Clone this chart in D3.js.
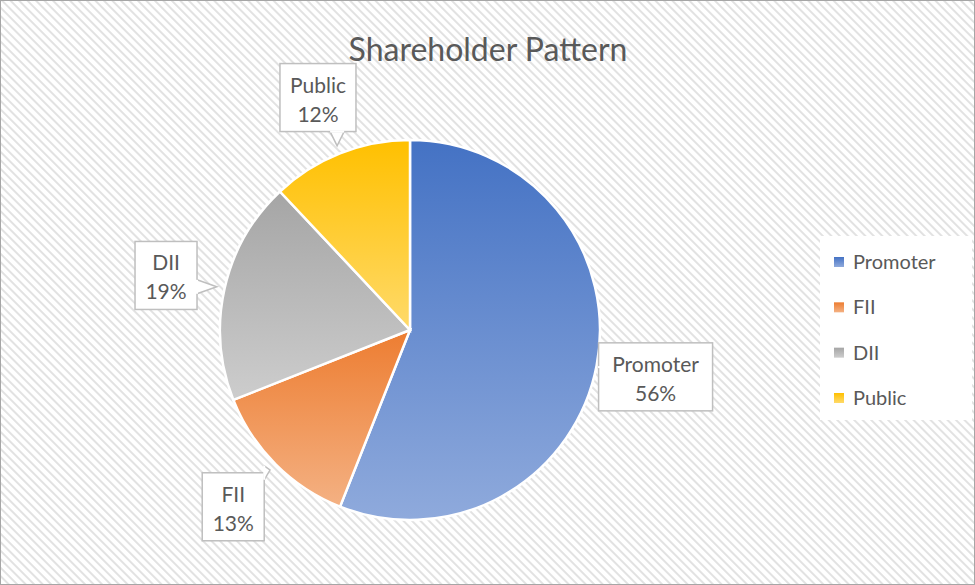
<!DOCTYPE html>
<html><head><meta charset="utf-8">
<script src="https://cdn.jsdelivr.net/npm/d3@7"></script>
<style>body{margin:0;background:#fff}svg{display:block;font-family:Lato,"Open Sans",sans-serif}</style>
</head><body><svg width="975" height="585"></svg>
<script>
// Data
const categories = ["Promoter", "FII", "DII", "Public"];
const shares = [56, 13, 19, 12];
const topColors = ["#4472C4", "#ED7D31", "#A5A5A5", "#FFC000"];
const bottomColors = ["#8FAADC", "#F4B183", "#CDCDCD", "#FFDA6A"];

const width = 975, height = 585;
const cx = 410, cy = 330, radius = 190;
const svg = d3.select("svg");
const defs = svg.append("defs");

// hatched background
const pat = defs.append("pattern").attr("id", "hatch").attr("patternUnits", "userSpaceOnUse")
  .attr("width", 6).attr("height", 6).attr("patternTransform", "rotate(-45)");
pat.append("rect").attr("width", 6).attr("height", 6).attr("fill", "#fff");
pat.append("rect").attr("width", 2).attr("height", 6).attr("fill", "#e2e2e2");
svg.append("rect").attr("x", 0.5).attr("y", 0.5).attr("width", width - 1).attr("height", height - 1)
  .attr("fill", "url(#hatch)").attr("stroke", "#a6a6a6");

categories.forEach((c, i) => {
  const g = defs.append("linearGradient").attr("id", "g" + i).attr("x1", 0).attr("y1", 0).attr("x2", 0).attr("y2", 1);
  g.append("stop").attr("offset", "0%").attr("stop-color", topColors[i]);
  g.append("stop").attr("offset", "100%").attr("stop-color", bottomColors[i]);
});

svg.append("text").attr("x", 488).attr("y", 61).attr("text-anchor", "middle")
  .attr("font-size", 32).attr("fill", "#595959").text("Shareholder Pattern");

const pie = d3.pie().value(d => d).sort(null);
const arcs = pie(shares);
const arc = d3.arc().innerRadius(0).outerRadius(radius);
const labelArc = d3.arc().innerRadius(250).outerRadius(250);
const edgeArc = d3.arc().innerRadius(radius + 8).outerRadius(radius + 8);

const chart = svg.append("g").attr("transform", `translate(${cx},${cy})`);
chart.selectAll("path").data(arcs).enter().append("path")
  .attr("d", arc).attr("fill", (d, i) => `url(#g${i})`)
  .attr("stroke", "#fff").attr("stroke-width", 2.5);

// callout labels
const total = d3.sum(shares);
arcs.forEach((d, i) => {
  const [x, y] = labelArc.centroid(d);
  const [ex, ey] = edgeArc.centroid(d);
  const w = i === 0 ? 114 : (i === 3 ? 76 : 62), h = 68;
  const bx = x - w / 2, by = y - h / 2;
  const px = Math.max(bx, Math.min(bx + w, ex)), py = Math.max(by, Math.min(by + h, ey));
  let base;
  if (px === bx || px === bx + w) base = [[px, py - 7], [px, py + 7]];
  else base = [[px - 7, py], [px + 7, py]];
  chart.append("path").attr("d", `M${base[0]}L${ex},${ey}L${base[1]}`)
    .attr("fill", "#fff").attr("stroke", "#bfbfbf").attr("stroke-width", 1.5);
  chart.append("rect").attr("x", bx).attr("y", by).attr("width", w).attr("height", h)
    .attr("fill", "#fff").attr("stroke", "#bfbfbf").attr("stroke-width", 1.5);
  chart.append("path").attr("d", `M${base[0]}L${base[1]}`).attr("stroke", "#fff").attr("stroke-width", 2);
  const t = chart.append("text").attr("text-anchor", "middle").attr("font-size", 21).attr("fill", "#595959");
  t.append("tspan").attr("x", x).attr("y", y - 5).text(categories[i]);
  t.append("tspan").attr("x", x).attr("y", y + 24).text(Math.round(d.data / total * 100) + "%");
});

// legend
const legend = svg.append("g");
legend.append("rect").attr("x", 820).attr("y", 236).attr("width", 152).attr("height", 184).attr("fill", "#fff");
const ly = d3.scalePoint().domain(categories).range([262, 398]);
categories.forEach((c, i) => {
  legend.append("rect").attr("x", 834).attr("y", ly(c) - 5).attr("width", 10).attr("height", 10)
    .attr("fill", `url(#g${i})`);
  legend.append("text").attr("x", 853).attr("y", ly(c) + 7).attr("font-size", 20).attr("fill", "#595959").text(c);
});
</script></body></html>
